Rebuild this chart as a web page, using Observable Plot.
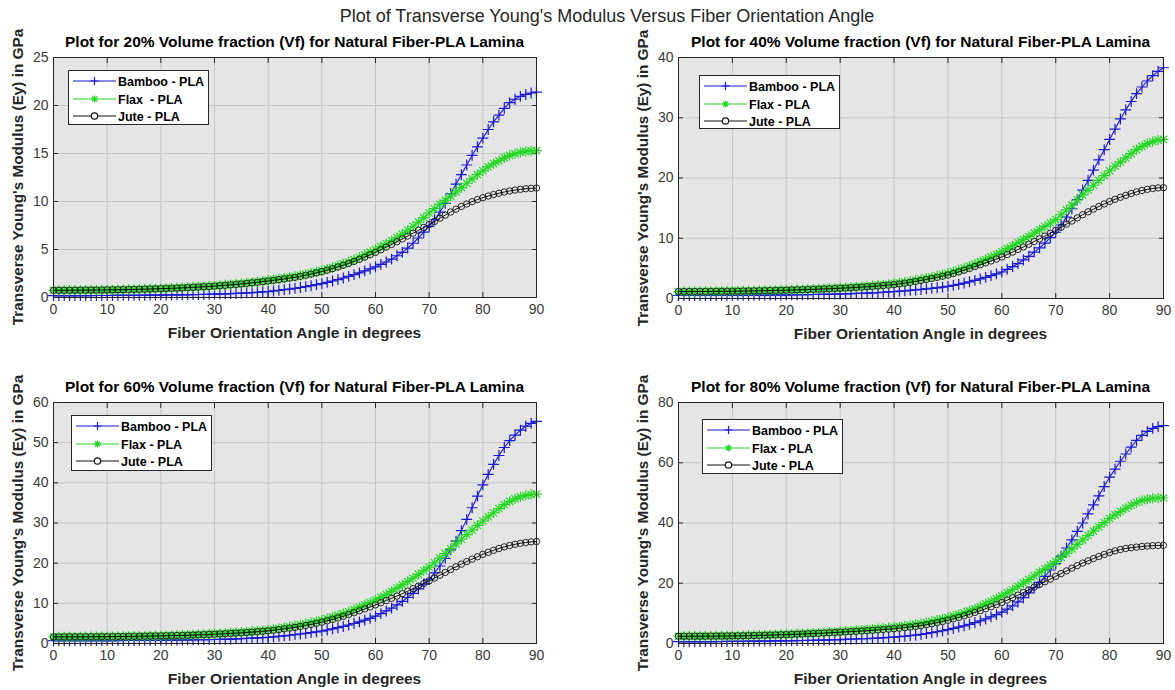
<!DOCTYPE html>
<html>
<head>
<meta charset="utf-8">
<script src="https://cdn.jsdelivr.net/npm/d3@7"></script>
<script src="https://cdn.jsdelivr.net/npm/@observablehq/plot@0.6"></script>
<style>
  html, body { margin: 0; padding: 0; background: #ffffff; }
  #root { position: relative; width: 1175px; height: 690px; overflow: hidden; background: #ffffff;
          font-family: "Liberation Sans", Arial, Helvetica, sans-serif; }
  .abs { position: absolute; }
  .maintitle { font-size: 18px; color: #262626; white-space: nowrap; transform: translateX(-50%); }
  .ptitle { font-size: 15.5px; font-weight: bold; color: #000; white-space: nowrap; transform: translateX(-50%); }
  .xlabel { font-size: 15.5px; font-weight: bold; color: #262626; white-space: nowrap; transform: translateX(-50%); }
  .ylabel { font-size: 15.3px; font-weight: bold; color: #262626; white-space: nowrap;
            transform: translate(-50%, -50%) rotate(-90deg); }
  .legend { background: #ffffff; border: 1px solid #262626; box-sizing: border-box; }
  .legend .txt { position: absolute; font-size: 12.5px; font-weight: bold; color: #000; white-space: pre; line-height: 16px; }
  .panel svg { overflow: visible; }
</style>
</head>
<body>
<div id="root"></div>
<script>
// ---------- data ----------
const angles = [0,1,2,3,4,5,6,7,8,9,10,11,12,13,14,15,16,17,18,19,20,21,22,23,24,25,26,27,28,29,30,31,32,33,34,35,36,37,38,39,40,41,42,43,44,45,46,47,48,49,50,51,52,53,54,55,56,57,58,59,60,61,62,63,64,65,66,67,68,69,70,71,72,73,74,75,76,77,78,79,80,81,82,83,84,85,86,87,88,89,90];

const bamboo20 = [0.2,0.2,0.2,0.2,0.2,0.2,0.202,0.204,0.206,0.208,0.21,0.214,0.218,0.222,0.226,0.23,0.234,0.238,0.242,0.246,0.25,0.26,0.265,0.27,0.28,0.29,0.3,0.31,0.32,0.335,0.35,0.37,0.38,0.4,0.42,0.45,0.48,0.51,0.54,0.58,0.62,0.68,0.74,0.81,0.88,0.95,1.04,1.13,1.23,1.34,1.45,1.58,1.72,1.87,2.03,2.2,2.38,2.57,2.77,2.98,3.2,3.45,3.7,4.0,4.35,4.7,5.15,5.65,6.2,6.8,7.4,8.1,8.9,9.8,10.8,11.8,12.8,13.8,14.8,15.7,16.6,17.5,18.3,19.0,19.7,20.3,20.65,20.95,21.15,21.3,21.4];
const flax20 = [0.75,0.75,0.75,0.755,0.76,0.76,0.765,0.77,0.78,0.785,0.79,0.8,0.81,0.825,0.835,0.85,0.865,0.88,0.895,0.91,0.93,0.95,0.97,1.0,1.02,1.05,1.08,1.11,1.15,1.18,1.22,1.26,1.31,1.35,1.4,1.45,1.51,1.57,1.64,1.71,1.78,1.86,1.94,2.02,2.11,2.2,2.31,2.42,2.54,2.67,2.8,2.96,3.13,3.31,3.5,3.7,3.94,4.19,4.45,4.72,5.0,5.3,5.6,5.92,6.25,6.6,7.0,7.42,7.86,8.32,8.8,9.25,9.7,10.12,10.55,11.0,11.45,11.9,12.35,12.8,13.2,13.6,13.95,14.25,14.55,14.8,14.98,15.12,15.22,15.28,15.3];
const jute20 = [0.75,0.75,0.75,0.755,0.76,0.76,0.765,0.77,0.775,0.78,0.79,0.8,0.81,0.82,0.83,0.84,0.855,0.87,0.885,0.9,0.92,0.94,0.96,0.98,1.0,1.03,1.06,1.09,1.12,1.15,1.19,1.23,1.27,1.32,1.36,1.41,1.47,1.53,1.59,1.65,1.72,1.79,1.86,1.94,2.02,2.1,2.21,2.32,2.44,2.57,2.7,2.85,3.01,3.18,3.36,3.55,3.76,3.98,4.21,4.45,4.7,4.97,5.25,5.53,5.81,6.1,6.4,6.7,7.0,7.3,7.6,7.93,8.26,8.58,8.9,9.2,9.48,9.74,9.98,10.2,10.4,10.57,10.72,10.86,10.99,11.1,11.19,11.27,11.33,11.37,11.4];

const bamboo40 = [0.5,0.5,0.5,0.5,0.5,0.5,0.504,0.508,0.512,0.516,0.52,0.526,0.532,0.538,0.544,0.55,0.56,0.57,0.58,0.59,0.6,0.61,0.62,0.63,0.645,0.66,0.68,0.69,0.71,0.73,0.75,0.78,0.81,0.84,0.87,0.9,0.94,0.98,1.03,1.09,1.15,1.21,1.28,1.35,1.42,1.5,1.59,1.68,1.78,1.89,2.0,2.17,2.35,2.55,2.77,3.0,3.25,3.5,3.8,4.1,4.4,4.85,5.3,5.8,6.4,7.0,7.7,8.4,9.2,10.1,11.0,12.2,13.5,14.9,16.4,18.0,19.6,21.3,23.0,24.7,26.4,28.1,29.8,31.3,32.7,34.0,35.1,36.1,37.0,37.7,38.3];
const flax40 = [1.15,1.15,1.16,1.16,1.165,1.17,1.18,1.19,1.2,1.21,1.22,1.235,1.25,1.27,1.285,1.3,1.32,1.34,1.36,1.38,1.4,1.43,1.46,1.49,1.52,1.55,1.59,1.63,1.67,1.71,1.75,1.8,1.86,1.92,1.98,2.05,2.12,2.2,2.28,2.36,2.45,2.58,2.72,2.87,3.03,3.2,3.38,3.57,3.77,3.98,4.2,4.46,4.73,5.05,5.37,5.7,6.08,6.48,6.9,7.34,7.8,8.28,8.76,9.26,9.77,10.3,10.84,11.4,11.96,12.53,13.1,13.9,14.7,15.5,16.35,17.2,18.0,18.8,19.6,20.4,21.2,21.95,22.65,23.35,24.05,24.7,25.25,25.7,26.05,26.3,26.4];
const jute40 = [1.15,1.15,1.16,1.16,1.165,1.17,1.18,1.19,1.195,1.2,1.21,1.22,1.235,1.25,1.265,1.28,1.3,1.32,1.34,1.36,1.38,1.41,1.44,1.46,1.49,1.52,1.55,1.59,1.62,1.66,1.7,1.74,1.79,1.84,1.89,1.95,2.01,2.08,2.15,2.22,2.3,2.42,2.55,2.69,2.84,3.0,3.16,3.33,3.51,3.7,3.9,4.15,4.41,4.69,4.99,5.3,5.6,5.91,6.23,6.56,6.9,7.3,7.71,8.13,8.56,9.0,9.45,9.9,10.36,10.83,11.3,11.82,12.34,12.86,13.38,13.9,14.38,14.83,15.27,15.7,16.1,16.46,16.8,17.12,17.42,17.7,17.93,18.12,18.26,18.36,18.4];

const bamboo60 = [0.7,0.7,0.7,0.7,0.7,0.7,0.704,0.708,0.712,0.716,0.72,0.728,0.736,0.744,0.752,0.76,0.77,0.78,0.795,0.805,0.82,0.835,0.85,0.865,0.88,0.9,0.92,0.94,0.96,0.98,1.0,1.03,1.07,1.11,1.15,1.2,1.26,1.33,1.4,1.47,1.55,1.66,1.78,1.91,2.05,2.2,2.36,2.53,2.71,2.9,3.1,3.36,3.63,3.93,4.25,4.6,4.98,5.38,5.82,6.28,6.8,7.45,8.1,8.8,9.6,10.5,11.45,12.5,13.6,14.8,16.0,17.6,19.3,21.2,23.3,25.5,28.1,30.9,33.8,36.7,39.5,42.1,44.6,46.8,48.8,50.5,51.9,53.1,54.1,54.8,55.3];
const flax60 = [1.65,1.65,1.66,1.66,1.665,1.67,1.68,1.69,1.7,1.71,1.72,1.735,1.75,1.765,1.78,1.8,1.82,1.845,1.87,1.895,1.92,1.95,1.99,2.02,2.06,2.1,2.15,2.21,2.27,2.33,2.4,2.47,2.55,2.63,2.71,2.8,2.9,3.01,3.12,3.23,3.35,3.54,3.74,3.95,4.17,4.4,4.66,4.93,5.2,5.5,5.8,6.18,6.58,7.0,7.44,7.9,8.45,9.0,9.6,10.2,10.8,11.5,12.2,13.0,13.8,14.6,15.45,16.3,17.2,18.1,19.0,20.1,21.25,22.4,23.6,24.8,25.95,27.1,28.25,29.4,30.5,31.55,32.55,33.6,34.55,35.4,36.0,36.5,36.85,37.1,37.2];
const jute60 = [1.65,1.65,1.66,1.66,1.665,1.67,1.68,1.69,1.7,1.705,1.71,1.72,1.735,1.75,1.765,1.78,1.8,1.82,1.85,1.875,1.9,1.93,1.96,1.99,2.02,2.05,2.1,2.15,2.2,2.25,2.3,2.37,2.44,2.51,2.58,2.65,2.74,2.84,2.94,3.04,3.15,3.31,3.47,3.64,3.82,4.0,4.24,4.49,4.75,5.02,5.3,5.64,5.99,6.36,6.76,7.2,7.65,8.12,8.6,9.1,9.6,10.15,10.7,11.25,11.82,12.4,13.03,13.66,14.3,14.95,15.6,16.3,17.0,17.7,18.4,19.1,19.75,20.4,21.0,21.6,22.2,22.7,23.2,23.65,24.05,24.4,24.7,24.95,25.15,25.3,25.4];

const bamboo80 = [0.6,0.6,0.6,0.6,0.61,0.62,0.63,0.645,0.66,0.68,0.7,0.72,0.74,0.76,0.78,0.8,0.82,0.84,0.86,0.88,0.9,0.93,0.96,0.99,1.02,1.05,1.1,1.15,1.2,1.25,1.3,1.36,1.42,1.49,1.57,1.65,1.72,1.81,1.9,2.0,2.1,2.25,2.42,2.6,2.8,3.0,3.28,3.58,3.9,4.24,4.6,5.0,5.42,5.88,6.37,6.9,7.5,8.15,8.85,9.6,10.4,11.4,12.5,13.8,15.2,16.8,18.5,20.3,22.3,24.4,26.5,29.0,31.7,34.4,37.2,40.0,43.0,46.0,49.0,52.1,55.2,57.9,60.5,62.9,65.2,67.4,69.1,70.4,71.4,72.0,72.3];
const flax80 = [2.4,2.4,2.41,2.42,2.435,2.45,2.47,2.49,2.51,2.53,2.55,2.59,2.63,2.67,2.71,2.75,2.81,2.87,2.93,2.99,3.05,3.13,3.21,3.29,3.37,3.45,3.55,3.65,3.75,3.85,3.95,4.08,4.21,4.34,4.47,4.6,4.76,4.92,5.08,5.24,5.4,5.62,5.85,6.09,6.34,6.6,6.96,7.34,7.74,8.16,8.6,9.1,9.65,10.22,10.84,11.5,12.3,13.15,14.0,14.9,15.8,16.82,17.86,18.94,20.06,21.2,22.4,23.6,24.8,26.0,27.2,28.6,30.0,31.4,32.9,34.4,35.85,37.3,38.7,40.1,41.5,42.7,43.8,44.9,45.9,46.8,47.45,47.9,48.15,48.28,48.3];
const jute80 = [2.4,2.4,2.41,2.415,2.42,2.43,2.445,2.46,2.48,2.5,2.52,2.55,2.58,2.62,2.66,2.7,2.74,2.79,2.84,2.895,2.95,3.01,3.08,3.15,3.22,3.3,3.38,3.47,3.56,3.65,3.75,3.84,3.94,4.04,4.14,4.25,4.37,4.5,4.63,4.76,4.9,5.08,5.27,5.47,5.68,5.9,6.22,6.56,6.92,7.3,7.7,8.16,8.64,9.16,9.72,10.3,10.9,11.55,12.2,12.9,13.6,14.4,15.2,16.05,16.92,17.8,18.7,19.6,20.5,21.4,22.3,23.2,24.1,25.0,25.85,26.7,27.45,28.2,28.9,29.55,30.2,30.75,31.2,31.55,31.8,32.0,32.2,32.35,32.47,32.55,32.6];

const xTicks = [0,10,20,30,40,50,60,70,80,90];
const yTicks20 = [0,5,10,15,20,25];
const yTicks40 = [0,10,20,30,40];
const yTicks60 = [0,10,20,30,40,50,60];
const yTicks80 = [0,20,40,60,80];

const mainTitle = "Plot of Transverse Young's Modulus Versus Fiber Orientation Angle";
const panelTitles = [
  "Plot for 20% Volume fraction (Vf) for Natural Fiber-PLA Lamina",
  "Plot for 40% Volume fraction (Vf) for Natural Fiber-PLA Lamina",
  "Plot for 60% Volume fraction (Vf) for Natural Fiber-PLA Lamina",
  "Plot for 80% Volume fraction (Vf) for Natural Fiber-PLA Lamina"
];
const legendNames20 = ["Bamboo - PLA", "Flax  - PLA", "Jute - PLA"];
const legendNames = ["Bamboo - PLA", "Flax - PLA", "Jute - PLA"];
const xLabel = "Fiber Orientation Angle in degrees";
const yLabel = "Transverse Young's Modulus (Ey) in GPa";

// ---------- styling / layout ----------
const BLUE = "#1a1ad2";
const GREEN = "#22d822";
const BLACK = "#111111";
const BG = "#e5e5e5";
const GRID = "#c6c6c6";
const AXIS = "#262626";

const panels = [
  {left: 0,   top: 0,   width: 587, mL: 53, mR: 51, mT: 57, mB: 48, ymax: 25, yTicks: yTicks20, series: [bamboo20, flax20, jute20], names: legendNames20,
   title: panelTitles[0], legend: {l: 68, t: 70, w: 141, h: 55}},
  {left: 587, top: 0,   width: 588, mL: 91, mR: 12, mT: 57, mB: 47, ymax: 40, yTicks: yTicks40, series: [bamboo40, flax40, jute40], names: legendNames,
   title: panelTitles[1], legend: {l: 699, t: 75, w: 141, h: 54}},
  {left: 0,   top: 345, width: 587, mL: 53, mR: 51, mT: 57, mB: 47, ymax: 60, yTicks: yTicks60, series: [bamboo60, flax60, jute60], names: legendNames,
   title: panelTitles[2], legend: {l: 71, t: 415, w: 141, h: 56}},
  {left: 587, top: 345, width: 588, mL: 91, mR: 12, mT: 57, mB: 47, ymax: 80, yTicks: yTicks80, series: [bamboo80, flax80, jute80], names: legendNames,
   title: panelTitles[3], legend: {l: 702, t: 419, w: 141, h: 55}}
];
const H = 345;

const root = document.getElementById("root");

function addDiv(cls, text, css) {
  const d = document.createElement("div");
  d.className = "abs " + cls;
  d.textContent = text;
  Object.assign(d.style, css);
  root.appendChild(d);
  return d;
}

addDiv("maintitle", mainTitle, {left: "607px", top: "6px"});

function makePanel(p) {
  const rows = [];
  p.series.forEach((vals, si) => vals.forEach((v, i) => rows.push({angle: angles[i], value: v, s: si})));
  const S = k => rows.filter(r => r.s === k);
  const chart = Plot.plot({
    width: p.width, height: H,
    marginLeft: p.mL, marginRight: p.mR, marginTop: p.mT, marginBottom: p.mB,
    style: {background: "transparent", fontFamily: "'Liberation Sans', Arial, sans-serif", fontSize: "14px", color: AXIS, overflow: "visible"},
    x: {domain: [0, 90]},
    y: {domain: [0, p.ymax]},
    marks: [
      Plot.frame({fill: BG, stroke: null}),
      Plot.gridX(xTicks, {stroke: GRID, strokeOpacity: 1, strokeWidth: 1}),
      Plot.gridY(p.yTicks, {stroke: GRID, strokeOpacity: 1, strokeWidth: 1}),
      Plot.axisX(xTicks, {anchor: "bottom", tickSize: -5, tickPadding: 12, label: null, fontSize: 14, fill: "#3a3a3a"}),
      Plot.axisX(xTicks, {anchor: "top", tickSize: -5, tickFormat: () => "", label: null}),
      Plot.axisY(p.yTicks, {anchor: "left", tickSize: -5, tickPadding: 10, label: null, fontSize: 14, fill: "#3a3a3a"}),
      Plot.axisY(p.yTicks, {anchor: "right", tickSize: -5, tickFormat: () => "", label: null}),
      Plot.line(S(0), {x: "angle", y: "value", stroke: BLUE, strokeWidth: 1.1}),
      Plot.dot(S(0), {x: "angle", y: "value", symbol: "plus", stroke: BLUE, r: 3.6, strokeWidth: 1.2}),
      Plot.line(S(1), {x: "angle", y: "value", stroke: GREEN, strokeWidth: 1.1}),
      Plot.dot(S(1), {x: "angle", y: "value", symbol: "plus", stroke: GREEN, r: 3.4, strokeWidth: 1.2}),
      Plot.dot(S(1), {x: "angle", y: "value", symbol: "times", stroke: GREEN, r: 3.4, strokeWidth: 1.2}),
      Plot.line(S(2), {x: "angle", y: "value", stroke: BLACK, strokeWidth: 1}),
      Plot.dot(S(2), {x: "angle", y: "value", symbol: "circle", stroke: BLACK, fill: "none", r: 3.2, strokeWidth: 0.9}),
      Plot.frame({stroke: AXIS, strokeWidth: 1})
    ]
  });
  const wrap = document.createElement("div");
  wrap.className = "abs panel";
  wrap.style.left = p.left + "px";
  wrap.style.top = p.top + "px";
  wrap.appendChild(chart);
  root.appendChild(wrap);

  const fx0 = p.left + p.mL, fx1 = p.left + p.width - p.mR;
  const fy0 = p.top + p.mT, fy1 = p.top + H - p.mB;
  const cx = (fx0 + fx1) / 2;
  addDiv("ptitle", p.title, {left: cx + "px", top: (fy0 - 24) + "px"});
  addDiv("xlabel", xLabel, {left: cx + "px", top: (fy1 + 27) + "px"});
  addDiv("ylabel", yLabel, {left: (fx0 - 35) + "px", top: ((fy0 + fy1) / 2) + "px"});

  // legend
  const lg = document.createElement("div");
  lg.className = "abs legend";
  Object.assign(lg.style, {left: p.legend.l + "px", top: p.legend.t + "px", width: p.legend.w + "px", height: p.legend.h + "px"});
  const colors = [BLUE, GREEN, BLACK];
  p.names.forEach((name, i) => {
    const yc = 11 + i * 17.5;
    const ns = "http://www.w3.org/2000/svg";
    const svg = document.createElementNS(ns, "svg");
    svg.setAttribute("width", "48"); svg.setAttribute("height", "12");
    svg.style.position = "absolute"; svg.style.left = "2px"; svg.style.top = (yc - 7) + "px";
    const ln = document.createElementNS(ns, "line");
    ln.setAttribute("x1", "2"); ln.setAttribute("x2", "45"); ln.setAttribute("y1", "6"); ln.setAttribute("y2", "6");
    ln.setAttribute("stroke", colors[i]); ln.setAttribute("stroke-width", "1.1");
    svg.appendChild(ln);
    const mk = document.createElementNS(ns, "path");
    if (i === 0) mk.setAttribute("d", "M23.5,2V10M19.5,6H27.5");
    if (i === 1) mk.setAttribute("d", "M23.5,2.5V9.5M20,6H27M21,3.5L26,8.5M26,3.5L21,8.5");
    if (i === 2) mk.setAttribute("d", "M26.7,6A3.2,3.2 0 1 1 20.3,6A3.2,3.2 0 1 1 26.7,6Z");
    mk.setAttribute("stroke", colors[i]); mk.setAttribute("fill", i === 2 ? "#ffffff" : "none"); mk.setAttribute("stroke-width", "1.2");
    svg.appendChild(mk);
    lg.appendChild(svg);
    const t = document.createElement("div");
    t.className = "txt";
    t.textContent = name;
    t.style.left = "49px"; t.style.top = (yc - 8) + "px";
    lg.appendChild(t);
  });
  root.appendChild(lg);
}

panels.forEach(makePanel);
</script>
</body>
</html>
